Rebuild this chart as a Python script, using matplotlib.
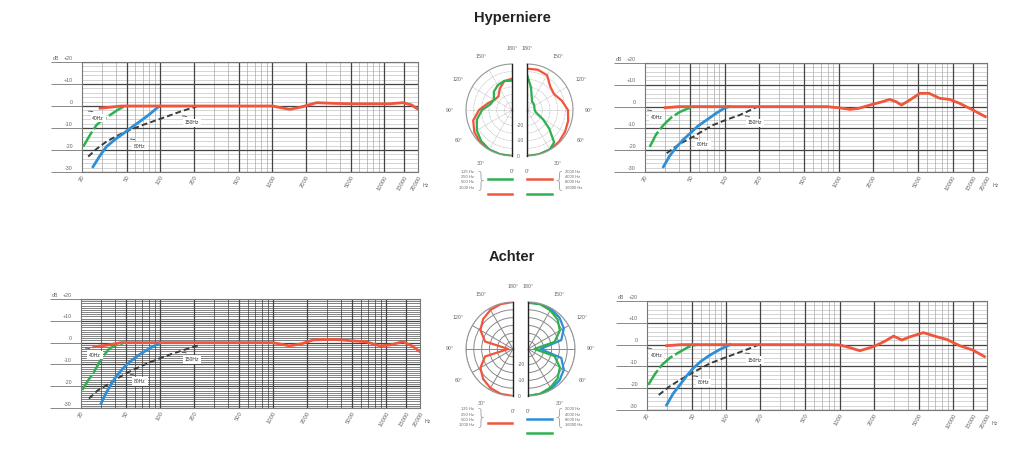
import matplotlib
matplotlib.use('Agg')
import matplotlib.pyplot as plt
from matplotlib.lines import Line2D
import numpy as np

plt.rcParams['font.family'] = ['Liberation Sans', 'DejaVu Sans']

W, H = 1024, 457
fig = plt.figure(figsize=(W / 100, H / 100), dpi=100)

# ---------------- data ----------------
freq_ticks = [20, 50, 100, 200, 500, 1000, 2000, 5000, 10000, 15000, 20000]
freq_tick_labels = ['20', '50', '100', '200', '500', '1000', '2000', '5000', '10000', '15000', '20000']
db_ticks = [10, 0, -10, -20, -30]
db_tick_labels = ['+10', '0', '-10', '-20', '-30']
lowcut_labels = ['40Hz', '80Hz', '150Hz']

# Hyperniere - left chart
hl_red_f = [29, 35, 45, 100, 500, 1000, 1200, 1440, 1800, 2490, 3500, 5000, 8000, 11200, 14700, 17500, 20000]
hl_red_db = [-1.0, -0.6, 0, 0, 0, 0, -0.8, -1.5, -0.5, 1.5, 1.2, 1.0, 1.0, 1.0, 1.5, 0.5, -1.5]
hl_green_f = [20.5, 24, 27, 31, 35.6, 41, 47, 50]
hl_green_db = [-18.5, -12.5, -8.6, -6.0, -4.1, -2.0, -0.3, 0]
hl_blue_f = [25.1, 29, 33, 40, 47.1, 55, 65.5, 80, 95, 100]
hl_blue_db = [-27.6, -22.5, -18.5, -15.0, -12.4, -9.8, -7.1, -3.8, -0.6, 0]
hl_black_f = [22.7, 27, 33, 42, 53.5, 70, 93, 120, 150, 180, 210]
hl_black_db = [-23.0, -19.5, -16.2, -13.3, -10.9, -8.6, -6.4, -4.4, -2.6, -1.3, -0.3]
hl_label_f = [27.9, 65.9, 192]
hl_label_db = [-5.5, -18.2, -7.7]

# Hyperniere - right chart
hr_red_f = [30, 40, 100, 500, 785, 1000, 1257, 1500, 1880, 2400, 2800, 3200, 3550, 4200, 5170, 6200, 7700, 9400, 11500, 15100, 19300]
hr_red_db = [-0.5, 0, 0, 0, 0, -0.5, -1.3, -0.8, 0.7, 2.2, 3.3, 2.2, 0.7, 3.0, 6.1, 6.1, 3.8, 3.3, 1.5, -1.6, -4.6]
hr_green_f = [22, 25, 29, 34, 40.6, 47, 55]
hr_green_db = [-18.5, -12.8, -8.5, -5.0, -2.4, -1.0, 0]
hr_blue_f = [29, 33, 37.9, 43, 49.7, 58, 69.6, 85, 101, 110]
hr_blue_db = [-27.6, -22.5, -18.5, -15.3, -12.3, -9.0, -6.1, -2.9, -0.5, 0]
hr_black_f = [31, 40, 53, 65, 79.5, 105, 135, 165, 190]
hr_black_db = [-21.4, -17.2, -13.8, -11.0, -8.4, -5.9, -3.9, -1.8, -0.2]
hr_label_f = [25.5, 64.6, 184]
hr_label_db = [-4.8, -17.6, -7.5]

# Achter - left chart
al_red_f = [26, 35, 45.6, 100, 500, 990, 1200, 1400, 1800, 2260, 3400, 5400, 6650, 8790, 10800, 14100, 17000, 20000]
al_red_db = [-1.9, -1.1, 0, 0, 0, 0, -0.8, -1.5, -0.5, 1.2, 1.5, 0.7, 0.4, -1.5, -1.1, 0.4, -1.5, -4.2]
al_green_f = [20.5, 23, 25.6, 29.3, 32.5, 35.9, 41, 47]
al_green_db = [-21.8, -17.5, -14.1, -8.8, -5.3, -2.6, -1.2, -0.3]
al_blue_f = [30.2, 33, 35.9, 41, 47, 55, 65, 80, 98.6]
al_blue_db = [-27.8, -23.5, -20.2, -15.5, -11.8, -8.5, -5.7, -2.8, -0.3]
al_black_f = [23.5, 28, 35.9, 45, 57, 80, 113, 160, 224]
al_black_db = [-25.7, -22.0, -18.7, -15.5, -12.6, -9.2, -6.1, -3.5, -1.1]
al_label_f = [26.6, 66.5, 191]
al_label_db = [-5.7, -17.9, -7.7]

# Achter - right chart
ar_red_f = [29.8, 40, 100, 500, 824, 1010, 1250, 1510, 1980, 2500, 3000, 3550, 4200, 5500, 7200, 8800, 11600, 15000, 19000]
ar_red_db = [-0.5, 0, 0, 0, 0, -0.2, -1.5, -2.8, -1.0, 1.5, 3.9, 2.1, 3.6, 5.5, 3.6, 2.4, -0.6, -2.5, -5.5]
ar_green_f = [20.5, 23.5, 27, 32, 39, 46, 55.2]
ar_green_db = [-18.5, -13.5, -9.4, -6.0, -3.3, -1.2, 0]
ar_blue_f = [29.8, 34, 39, 44.5, 51, 60, 72, 88, 108]
ar_blue_db = [-27.7, -22.5, -18.5, -14.5, -10.9, -7.6, -4.8, -2.2, 0]
ar_black_f = [25.4, 31, 39, 52, 72, 95, 124, 160, 200]
ar_black_db = [-23.1, -19.5, -16.2, -12.5, -8.6, -6.2, -4.0, -1.8, 0.3]
ar_label_f = [24.4, 62.5, 179]
ar_label_db = [-4.8, -17.6, -7.1]

# Polar patterns (angle in degrees, level in dB)
polar_angles = [0, 15, 30, 45, 60, 75, 90, 105, 120, 135, 150, 165, 180]
hyp_left_green = [0, -0.1, -0.3, -1.5, -3.5, -6.3, -10.5, -15.5, -16.5, -13.2, -11.4, -10.4, -10.9]
hyp_left_red = [0, 0, 0, -0.3, -1.6, -3.8, -8.5, -13.5, -16.8, -17.5, -14.0, -10.5, -9.6]
hyp_right_red = [0, 0, -0.2, -0.6, -1.4, -2.2, -3.3, -6.5, -9.5, -8.5, -3.8, -2.8, -3.0]
hyp_right_green_angles = [0, 15, 30, 40, 50, 60, 75, 90, 105, 120, 135, 150, 160, 170, 180]
hyp_right_green = [0, 0, -0.3, -2.5, -11, -18, -24, -25, -25, -24.5, -24, -23.5, -21, -15, -7]
ach_left_red = [0, -0.3, -1.2, -3.0, -6.0, -11.5, -27, -11.5, -6.0, -3.0, -1.2, -0.3, 0]
ach_right_blue = [0, -0.2, -0.6, -1.6, -3.6, -8.0, -22, -8.0, -3.6, -1.6, -0.6, -0.2, 0]
ach_right_green = [0, -0.4, -1.5, -3.3, -6.5, -12.5, -26, -12.5, -6.5, -3.3, -1.5, -0.4, -0.5]
polar_angle_labels = ['0°', '30°', '60°', '90°', '120°', '150°', '180°']
ring_labels = ['0', '-10', '-20']
ring_levels = [0, -10, -20]
legend_low = ['125 Hz', '250 Hz', '500 Hz', '1000 Hz']
legend_high = ['2000 Hz', '4000 Hz', '8000 Hz', '16000 Hz']

RED = '#f0563c'
GREEN = '#2fb050'
BLUE = '#2f8fd6'
BLACK = '#3a3a3a'
TXT = '#666666'


def px_axes(x0, y0, x1, y1, **kw):
    return fig.add_axes([x0 / W, 1 - y1 / H, (x1 - x0) / W, (y1 - y0) / H], **kw)


def freq_chart(rect, red, green, blue, black, labpos, dense=False):
    x0, y0, x1, y1 = rect
    ax = px_axes(x0, y0, x1, y1)
    ax.set_xscale('log')
    ax.set_xlim(20, 20000)
    ax.set_ylim(-30, 20)
    step = 1 if dense else 2
    hcol = '#3c3c3c' if dense else '#bdbdbd'
    ax.hlines([v for v in range(-30, 21, step) if v % 10], 20, 20000, colors=hcol,
              lw=0.45, zorder=0)
    ax.hlines(list(range(-30, 21, 10)), 20, 20000, colors='#444', lw=0.9, zorder=0.5)
    minor = [m * 10 ** e for e in range(1, 5) for m in range(1, 10)]
    minor = [f for f in minor if 20 < f < 20000 and f not in freq_ticks]
    ax.vlines(minor, -30, 20, colors=('#3c3c3c' if dense else '#aaaaaa'), lw=0.5, zorder=0)
    ax.vlines(freq_ticks[1:-1], -30, 20, colors='#444', lw=0.9, zorder=0.5)
    for s in ax.spines.values():
        s.set_color('#777')
        s.set_linewidth(0.8)
    ax.set_xticks(freq_ticks)
    ax.set_xticklabels(freq_tick_labels)
    ax.xaxis.set_minor_locator(matplotlib.ticker.NullLocator())
    ax.tick_params(axis='x', length=0, pad=2, labelsize=4.2, labelcolor=TXT)
    plt.setp(ax.get_xticklabels(), rotation=60, ha='right', rotation_mode='anchor')
    ax.set_yticks(db_ticks + [20])
    ax.set_yticklabels([])
    ax.tick_params(axis='y', length=22, width=0.7, color='#888', direction='out')
    tr = matplotlib.transforms.blended_transform_factory(ax.transAxes, ax.transData)
    off = -9 / (x1 - x0)
    for v, lab in zip(db_ticks, db_tick_labels):
        ax.text(off, v + 0.6, lab, transform=tr, ha='right', va='bottom', fontsize=3.8, color=TXT)
    ax.text(off, 20.6, '+20', transform=tr, ha='right', va='bottom', fontsize=3.8, color=TXT)
    ax.text(off - 14 / (x1 - x0), 20.6, 'dB', transform=tr, ha='right', va='bottom', fontsize=3.8, color=TXT)
    ax.text(1.015, -0.1, 'Hz', transform=ax.transAxes, ha='left', va='top', fontsize=3.8, color=TXT)
    ax.plot(black[0], black[1], color=BLACK, lw=1.4, dashes=(3, 1.6), zorder=3)
    ax.plot(green[0], green[1], color=GREEN, lw=1.8, dashes=(7, 1.2), zorder=3)
    ax.plot(blue[0], blue[1], color=BLUE, lw=2.0, zorder=3)
    ax.plot(red[0], red[1], color=RED, lw=2.0, zorder=4)
    for f, d, lab in zip(labpos[0], labpos[1], lowcut_labels):
        ax.annotate(lab, (f, d), fontsize=3.6, color='#333', ha='center', va='center', zorder=5,
                    bbox=dict(boxstyle='square,pad=0.35', fc='white', ec='none'))
        ax.annotate('', (f, d), xytext=(-7, 5), textcoords='offset points', zorder=5,
                    arrowprops=dict(arrowstyle='-', color='#222', lw=0.5,
                                    connectionstyle='arc3,rad=-0.4', shrinkA=0, shrinkB=6))
    return ax


freq_chart((82, 62, 418, 172), (hl_red_f, hl_red_db), (hl_green_f, hl_green_db),
           (hl_blue_f, hl_blue_db), (hl_black_f, hl_black_db), (hl_label_f, hl_label_db))
freq_chart((645, 63, 987, 172), (hr_red_f, hr_red_db), (hr_green_f, hr_green_db),
           (hr_blue_f, hr_blue_db), (hr_black_f, hr_black_db), (hr_label_f, hr_label_db))
freq_chart((81, 299, 420, 408), (al_red_f, al_red_db), (al_green_f, al_green_db),
           (al_blue_f, al_blue_db), (al_black_f, al_black_db), (al_label_f, al_label_db), dense=True)
freq_chart((647, 301, 987, 410), (ar_red_f, ar_red_db), (ar_green_f, ar_green_db),
           (ar_blue_f, ar_blue_db), (ar_black_f, ar_black_db), (ar_label_f, ar_label_db))


def half_polar(cx, cy, R, side, curves, dense=False):
    # the half-disc is centred inside a square box of side 2R
    if side == 'left':
        ax = px_axes(cx - 1.5 * R, cy - R, cx + 0.5 * R, cy + R, projection='polar')
        ax.set_theta_direction(-1)
    else:
        ax = px_axes(cx - 0.5 * R, cy - R, cx + 1.5 * R, cy + R, projection='polar')
        ax.set_theta_direction(1)
    ax.set_theta_zero_location('S')
    ax.set_thetamin(0)
    ax.set_thetamax(180)
    ax.set_rlim(-30, 0)
    ax.set_rticks([-25, -20, -15, -10, -5, 0])
    ax.set_yticklabels([])
    ax.set_thetagrids(list(range(0, 181, 30)), labels=polar_angle_labels)
    ax.tick_params(axis='x', labelsize=3.8, labelcolor=TXT, pad=1)
    if dense:
        ax.grid(True, color='#888', lw=0.7, ls='-')
    else:
        ax.grid(True, color='#aaa', lw=0.5, ls=(0, (1, 1)))
    ax.spines['polar'].set_color('#999')
    ax.spines['polar'].set_linewidth(0.8)
    for k in ('start', 'end'):
        ax.spines[k].set_color('#222')
        ax.spines[k].set_linewidth(1.0)
    for ang, vals, col in curves:
        ax.plot(np.deg2rad(ang), vals, color=col, lw=1.6)
    if side == 'left':
        for lev, lab in zip(ring_levels, ring_labels):
            ax.annotate(lab, (0, lev), xytext=(3.5, 0), textcoords='offset points',
                        fontsize=3.6, color=TXT, ha='left', va='center')
    return ax


half_polar(512, 110, 46, 'left', [(polar_angles, hyp_left_red, RED), (polar_angles, hyp_left_green, GREEN)])
half_polar(527, 110, 46, 'right', [(polar_angles, hyp_right_red, RED), (hyp_right_green_angles, hyp_right_green, GREEN)])
half_polar(513, 349, 47, 'left', [(polar_angles, ach_left_red, RED)], dense=True)
half_polar(528, 349, 47, 'right', [(polar_angles, ach_right_blue, BLUE), (polar_angles, ach_right_green, GREEN)], dense=True)


def legend_block(rows_y, lines_left, lines_right):
    for y, lab in zip(rows_y, legend_low):
        fig.text(474 / W, 1 - y / H, lab, ha='right', va='center', fontsize=3.0, color=TXT)
    for y, lab in zip(rows_y, legend_high):
        fig.text(565 / W, 1 - y / H, lab, ha='left', va='center', fontsize=3.0, color=TXT)
    ym = (rows_y[0] + rows_y[-1]) / 2
    fig.text(481 / W, 1 - ym / H, '}', ha='center', va='center', fontsize=15, color='#aaa',
             family='DejaVu Sans', fontweight='light')
    fig.text(559 / W, 1 - ym / H, '{', ha='center', va='center', fontsize=15, color='#aaa',
             family='DejaVu Sans', fontweight='light')
    for y, col in lines_left:
        fig.add_artist(Line2D([488 / W, 512 / W], [1 - y / H] * 2, color=col, lw=1.8))
    for y, col in lines_right:
        fig.add_artist(Line2D([527 / W, 552 / W], [1 - y / H] * 2, color=col, lw=1.8))


legend_block([172.0, 177.2, 182.4, 187.6], [(179.3, GREEN), (193.5, RED)], [(179.3, RED), (193.5, GREEN)])
legend_block([409.5, 414.7, 419.9, 425.1], [(422.5, RED)], [(418.7, BLUE), (432.5, GREEN)])

fig.text(512 / W, 1 - 18 / H, 'Hyperniere', ha='center', va='center', fontsize=10.5, fontweight='bold', color='#222')
fig.text(512 / W, 1 - 257 / H, 'Achter', ha='center', va='center', fontsize=10.5, fontweight='bold', color='#222')

fig.savefig('out.png', dpi=100, facecolor='white')
